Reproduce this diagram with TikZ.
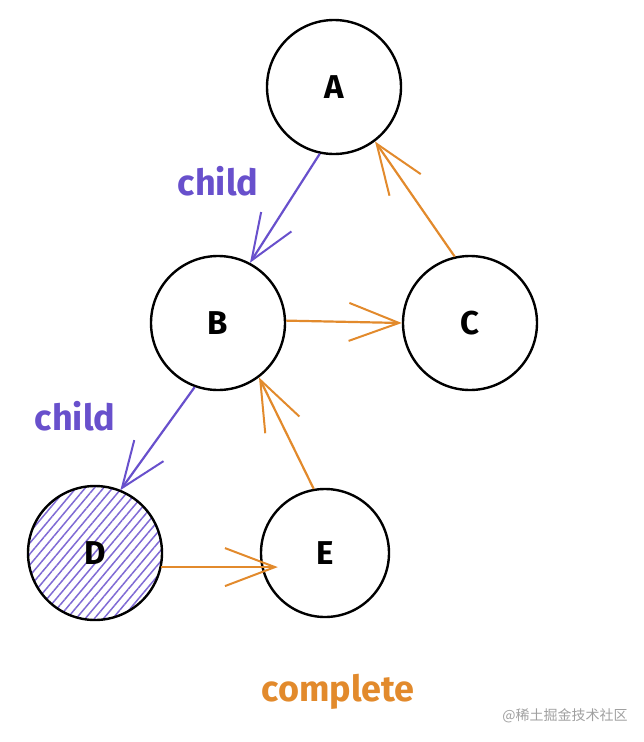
\documentclass[tikz,border=0pt]{standalone}
\usepackage{fontspec}
\setmainfont{Fira Sans}
\newfontfamily\cjk{Noto Sans CJK SC}
\usetikzlibrary{positioning,arrows.meta,patterns.meta}

\definecolor{childcol}{RGB}{104,80,204}
\definecolor{donecol}{RGB}{226,138,44}
\definecolor{markcol}{RGB}{160,160,160}

\tikzset{
	circ/.style={circle, draw=black, line width=2.4pt, minimum size=134pt, inner sep=0pt,
		font=\bfseries\fontsize{33}{33}\selectfont},
	hatched/.style={pattern={Lines[angle=50,distance=7pt,line width=1.5pt]}, pattern color=childcol!85},
	childarrow/.style={draw=childcol, line width=2.2pt, -{Straight Barb[length=46pt,width=36pt,line width=2pt]}},
	donearrow/.style={draw=donecol, line width=2.2pt, -{Straight Barb[length=50pt,width=38pt,line width=2pt]}},
	lbl/.style={font=\bfseries\fontsize{36}{36}\selectfont}
}

\begin{document}
\begin{tikzpicture}[x=1pt,y=-1pt,node distance=1cm,on grid]
	\useasboundingbox (0,0) rectangle (644,742);

	\node (a) [circ] at (334,87) {A};
	\node (b) [circ, below left=236pt and 116pt of a] {B};
	\node (c) [circ, right=252pt of b] {C};
	\node (d) [circ, hatched, below left=230pt and 123pt of b] {D};
	\node (e) [circ, minimum size=128pt, right=230pt of d] {E};

	\node (l1) [lbl, text=childcol] at (218,181) {child};
	\node (l2) [lbl, text=childcol] at (75,416) {child};
	\node (l3) [lbl, text=donecol]  at (338,692) {complete};

	\draw [childarrow] (a.258) -- (b.62);
	\draw [childarrow] (b.250) -- (d.68);

	\draw [donearrow] (b.2)   -- (c.180);
	\draw [donearrow] (c.103) -- (a.307);
	\draw [donearrow] (d.348) -- ([xshift=18pt]d.348 -| e.west);
	\draw [donearrow] (e.100) -- (b.307);

	\node (wm) [text=markcol, font=\cjk\fontsize{14}{14}\selectfont] at (565,716) {@稀土掘金技术社区};
\end{tikzpicture}
\end{document}
